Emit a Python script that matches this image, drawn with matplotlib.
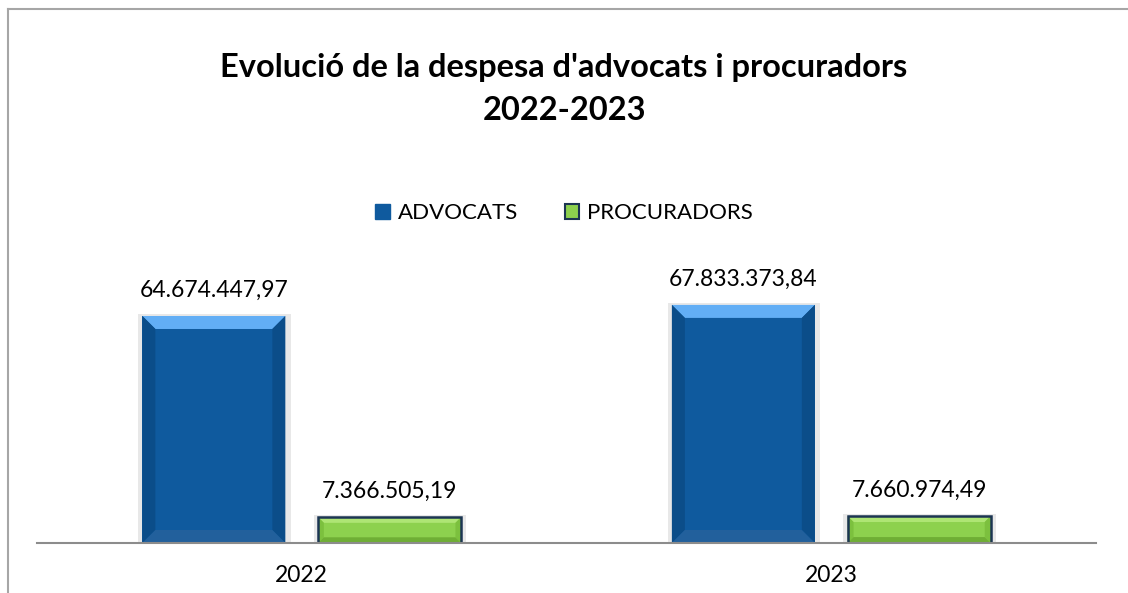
import numpy as np
import matplotlib
matplotlib.use('Agg')
import matplotlib.pyplot as plt
from matplotlib.patches import Polygon, Patch
from matplotlib.lines import Line2D

years = ['2022', '2023']
advocats = [64674447.97, 67833373.84]
procuradors = [7366505.19, 7660974.49]
series_names = ['ADVOCATS', 'PROCURADORS']

plt.rcParams['font.family'] = ['Lato', 'DejaVu Sans']

W, H = 1128, 593
fig = plt.figure(figsize=(W / 100, H / 100), dpi=100)
fig.patch.set_facecolor('white')

# outer chart border (left and top only visible)
fig.add_artist(Line2D([8 / W, 8 / W], [0, 1 - 9 / H], color='#A6A6A6', lw=1.5))
fig.add_artist(Line2D([8 / W, 1], [1 - 9 / H, 1 - 9 / H], color='#A6A6A6', lw=1.5))

ax = fig.add_axes([37 / W, 50 / H, (1096 - 37) / W, 300 / H])
px_per_unit = 3.51e-6  # pixels per euro
ax.set_ylim(0, 300 / px_per_unit)
ax.set_xlim(-0.5, 1.5)

x = np.arange(len(years))
bw = 0.27
off = 0.166

def fmt(v):
    s = f"{v:,.2f}"
    return s.replace(',', '#').replace('.', ',').replace('#', '.')

def bevel(ax, patch, top, side, bottom, edge=None):
    x0, y0 = patch.get_x(), patch.get_y()
    w, h = patch.get_width(), patch.get_height()
    hpx = h * px_per_unit
    bpx = min(13, hpx * 0.22)
    by = bpx / px_per_unit
    bx = w * bpx / 143.0
    x1, y1 = x0 + w, y0 + h
    # soft shadow
    ax.add_patch(Polygon([(x0 - 0.008, y0), (x1 + 0.01, y0), (x1 + 0.01, y1 + 2 / px_per_unit),
                          (x0 - 0.008, y1 + 2 / px_per_unit)], closed=True,
                         facecolor='#E8E8E8', edgecolor='none', zorder=1))
    ax.add_patch(Polygon([(x0, y1), (x1, y1), (x1 - bx, y1 - by), (x0 + bx, y1 - by)],
                         closed=True, facecolor=top, edgecolor='none', zorder=3))
    ax.add_patch(Polygon([(x0, y0), (x0 + bx, y0 + by), (x0 + bx, y1 - by), (x0, y1)],
                         closed=True, facecolor=side, edgecolor='none', zorder=3))
    ax.add_patch(Polygon([(x1, y0), (x1 - bx, y0 + by), (x1 - bx, y1 - by), (x1, y1)],
                         closed=True, facecolor=side, edgecolor='none', zorder=3))
    ax.add_patch(Polygon([(x0, y0), (x1, y0), (x1 - bx, y0 + by), (x0 + bx, y0 + by)],
                         closed=True, facecolor=bottom, edgecolor='none', zorder=3))
    if edge:
        ax.add_patch(Polygon([(x0, y0), (x1, y0), (x1, y1), (x0, y1)], closed=True,
                             facecolor='none', edgecolor=edge, lw=1.8, zorder=4))

b1 = ax.bar(x - off, advocats, bw, color='#0F5A9E', zorder=2)
b2 = ax.bar(x + off, procuradors, bw, color='#8DD14E', zorder=2)

for p in b1:
    bevel(ax, p, '#62AEF5', '#0B4D89', '#22609C')
for p in b2:
    bevel(ax, p, '#AEE574', '#7CC03E', '#6FAE35', edge='#1C3552')

for bars, vals in ((b1, advocats), (b2, procuradors)):
    for p, v in zip(bars, vals):
        ax.annotate(fmt(v), (p.get_x() + p.get_width() / 2, p.get_height()),
                    xytext=(0, 11), textcoords='offset points', ha='center', va='bottom',
                    fontsize=16.5, color='#000000')

for s in ['left', 'right', 'top']:
    ax.spines[s].set_visible(False)
ax.spines['bottom'].set_color('#8C8C8C')
ax.spines['bottom'].set_linewidth(1.5)
ax.spines['bottom'].set_zorder(5)
ax.set_yticks([])
ax.set_xticks(x)
ax.set_xticklabels(years, fontsize=16.5)
ax.tick_params(axis='x', length=0, pad=16)
ax.patch.set_alpha(0)

fig.text(0.5, 1 - 68 / H, "Evolució de la despesa d'advocats i procuradors",
         ha='center', va='center', fontsize=23.5, fontweight='bold')
fig.text(0.5, 1 - 110 / H, "2022-2023", ha='center', va='center', fontsize=23.5, fontweight='bold')

handles = [Patch(facecolor='#0F5A9E', edgecolor='#0F5A9E'),
           Patch(facecolor='#8DD14E', edgecolor='#1C3552', lw=1.5)]
fig.legend(handles, series_names, loc='center', bbox_to_anchor=(0.5, 1 - 213 / H), ncol=2,
           frameon=False, fontsize=16, handlelength=0.65, handleheight=0.65,
           handletextpad=0.35, columnspacing=2.1)

fig.savefig('out.png', dpi=100)
